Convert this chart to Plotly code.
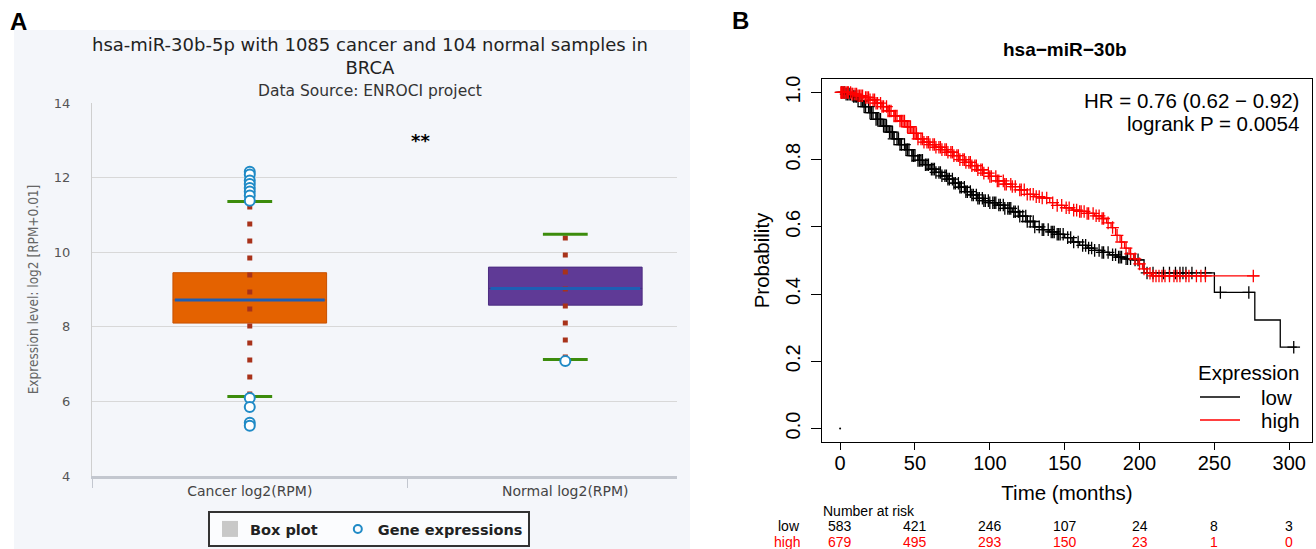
import plotly.graph_objects as go

W, H = 1316, 549

def px(x):
    return x / W

def py(y):
    return 1 - y / H

# ---------------- Panel A data ----------------
groups = ["Cancer log2(RPM)", "Normal log2(RPM)"]
q1 = [8.10, 8.58]
median = [8.72, 9.03]
q3 = [9.45, 9.60]
lower_whisker = [6.13, 7.12]
upper_whisker = [11.36, 10.48]
box_fill = ["#e46200", "#5f3a96"]
box_edge = ["#c75000", "#4b2c80"]
outliers_cancer = [12.16, 12.08, 11.92, 11.83, 11.72, 11.63, 11.52, 11.38,
                   6.09, 5.85, 5.43, 5.35]
outliers_normal = [7.08]
outliers = [outliers_cancer, outliers_normal]
signif_label = "**"
signif_y = 13.0
title_a = ["hsa-miR-30b-5p with 1085 cancer and 104 normal samples in", "BRCA"]

# ---------------- Panel B data ----------------
low_t = [0, 4, 8, 12, 16, 20, 24, 28, 32, 36, 40, 44, 48, 52, 56, 60, 64, 68, 72, 76,
         80, 84, 88, 92, 96, 100, 105, 110, 115, 120, 125, 130, 135, 140, 145, 150,
         155, 160, 165, 170, 175, 180, 185, 190, 196, 203, 250, 277, 294, 305]
low_s = [1.0, 0.995, 0.988, 0.975, 0.958, 0.94, 0.92, 0.90, 0.882, 0.862, 0.845, 0.83,
         0.812, 0.798, 0.785, 0.772, 0.762, 0.752, 0.742, 0.73, 0.718, 0.705, 0.695,
         0.685, 0.678, 0.672, 0.665, 0.655, 0.645, 0.632, 0.616, 0.60, 0.592, 0.585,
         0.578, 0.568, 0.555, 0.545, 0.537, 0.53, 0.524, 0.517, 0.51, 0.505, 0.502,
         0.463, 0.405, 0.323, 0.242, 0.242]
high_t = [0, 8, 12, 16, 20, 24, 28, 32, 36, 40, 44, 48, 52, 56, 60, 64, 68, 72, 76, 80,
          84, 88, 92, 96, 100, 105, 110, 115, 120, 125, 130, 135, 140, 145, 150, 155,
          160, 165, 170, 175, 178, 181, 184, 187, 190, 193, 196, 199, 202, 205, 208, 280]
high_s = [1.0, 0.995, 0.99, 0.985, 0.978, 0.968, 0.958, 0.945, 0.93, 0.915, 0.898,
          0.878, 0.862, 0.852, 0.845, 0.837, 0.83, 0.822, 0.812, 0.80, 0.792, 0.782,
          0.77, 0.76, 0.75, 0.737, 0.727, 0.72, 0.71, 0.697, 0.69, 0.686, 0.672, 0.664,
          0.657, 0.65, 0.646, 0.64, 0.633, 0.625, 0.612, 0.598, 0.575, 0.555, 0.537,
          0.52, 0.505, 0.49, 0.475, 0.462, 0.454, 0.454]
low_censor = [1, 2, 3, 4, 5, 6, 7, 9, 10, 11, 12, 14, 15, 16, 17, 19, 20, 21, 22, 24, 25,
              26, 27, 29, 30, 31, 33, 34, 35, 36, 38, 39, 40, 41, 43, 44, 45, 46, 48, 49,
              50, 52, 53, 54, 55, 57, 58, 59, 61, 62, 63, 64, 66, 67, 68, 70, 71, 72, 73,
              75, 76, 77, 79, 80, 81, 83, 84, 85, 87, 88, 89, 91, 92, 93, 95, 96, 97, 99,
              100, 102, 103, 104, 106, 107, 109, 110, 112, 113, 114, 116, 117, 119, 120,
              122, 124, 125, 127, 129, 130, 133, 135, 136, 139, 141, 142, 143, 145, 146,
              147, 149, 152, 154, 156, 159, 162, 164, 166, 168, 170, 173, 175, 176, 179,
              182, 184, 186, 187, 188, 191, 192, 194, 197, 199, 205, 209, 216, 220, 224,
              227, 229, 231, 235, 244, 254, 273, 303]
high_censor = [0.5, 1, 1.5, 2.5, 3, 4, 5, 5.5, 7, 8, 8.5, 10, 11, 12, 13, 14, 15, 17, 18,
               19, 20, 22, 23, 24, 25, 27, 28, 29, 31, 32, 33, 34, 36, 37, 38, 40, 41, 42,
               43, 45, 46, 47, 49, 50, 51, 52, 54, 55, 56, 58, 59, 60, 62, 63, 64, 66, 67,
               68, 70, 71, 72, 74, 75, 76, 78, 79, 80, 82, 83, 84, 86, 87, 88, 90, 91, 92,
               94, 95, 96, 99, 100, 101, 104, 105, 106, 109, 110, 111, 114, 115, 117, 120,
               121, 123, 125, 127, 129, 131, 133, 135, 138, 142, 145, 148, 151, 153, 156,
               158, 160, 161, 163, 165, 166, 169, 171, 173, 175, 176, 179, 182, 185, 188,
               191, 194, 197, 200, 203, 207, 209, 211, 213, 215, 217, 220, 223, 225, 227,
               231, 233, 238, 241, 244, 276]
risk_times = [0, 50, 100, 150, 200, 250, 300]
risk_low = [583, 421, 246, 107, 24, 8, 3]
risk_high = [679, 495, 293, 150, 23, 1, 0]
km_title = "hsa\u2212miR\u221230b"
hr_text = ["HR = 0.76 (0.62 \u2212 0.92)", "logrank P = 0.0054"]
groups_b = ["low", "high"]
colors_b = ["#000000", "#ff0000"]


def step_at(ts, ss, t):
    val = ss[0]
    for ti, si in zip(ts, ss):
        if ti <= t:
            val = si
    return val


fig = go.Figure()

# ---------------- Panel A traces ----------------
BOX_W = 0.487
CAP_W = 0.142
FA = "DejaVu Sans"
FB = "Liberation Sans"
for i in range(len(groups)):
    fig.add_trace(go.Scatter(
        x=[i, i], y=[lower_whisker[i], upper_whisker[i]], mode="lines",
        line=dict(color="#a8321a", width=5, dash="5px,12px"),
        showlegend=False, hoverinfo="skip", xaxis="x", yaxis="y"))
    fig.add_trace(go.Box(
        x=[i], q1=[q1[i]], median=[median[i]], q3=[q3[i]],
        lowerfence=[q1[i]], upperfence=[q3[i]], width=BOX_W, whiskerwidth=0,
        fillcolor=box_fill[i], line=dict(color=box_edge[i], width=1),
        boxpoints=False, showlegend=False, hoverinfo="skip", xaxis="x", yaxis="y"))
    fig.add_trace(go.Scatter(
        x=[i - BOX_W / 2 + 0.006, i + BOX_W / 2 - 0.006], y=[median[i], median[i]],
        mode="lines", line=dict(color="#1e5eb4", width=3),
        showlegend=False, hoverinfo="skip", xaxis="x", yaxis="y"))
    for fence in (lower_whisker[i], upper_whisker[i]):
        fig.add_trace(go.Scatter(
            x=[i - CAP_W / 2, i + CAP_W / 2], y=[fence, fence], mode="lines",
            line=dict(color="#3c8c0c", width=3),
            showlegend=False, hoverinfo="skip", xaxis="x", yaxis="y"))
    fig.add_trace(go.Scatter(
        x=[i] * len(outliers[i]), y=outliers[i], mode="markers",
        marker=dict(symbol="circle", size=10, color="white",
                    line=dict(color="#1f8ac6", width=2)),
        showlegend=False, hoverinfo="skip", xaxis="x", yaxis="y"))

# legend entries for panel A
fig.add_trace(go.Scatter(x=[None], y=[None], mode="markers",
                         name="Box plot\u00a0\u00a0\u00a0",
                         marker=dict(symbol="square", size=16, color="#c8c8c8"),
                         legend="legend", xaxis="x", yaxis="y"))
fig.add_trace(go.Scatter(x=[None], y=[None], mode="markers", name="Gene expressions",
                         marker=dict(symbol="circle-open", size=8, color="#1f8ac6",
                                     line=dict(width=2)),
                         legend="legend", xaxis="x", yaxis="y"))

# ---------------- Panel B traces ----------------
for name, ts, ss, cens, col in [(groups_b[0], low_t, low_s, low_censor, colors_b[0]),
                                (groups_b[1], high_t, high_s, high_censor, colors_b[1])]:
    fig.add_trace(go.Scatter(
        x=ts, y=ss, mode="lines", line=dict(color=col, width=1.3, shape="hv"),
        name=name, showlegend=False, xaxis="x2", yaxis="y2", hoverinfo="skip"))
    fig.add_trace(go.Scatter(
        x=cens, y=[step_at(ts, ss, c) for c in cens], mode="markers",
        marker=dict(symbol="cross-thin", size=9, line=dict(color=col, width=1.3)),
        showlegend=False, xaxis="x2", yaxis="y2", hoverinfo="skip"))

fig.add_trace(go.Scatter(x=[risk_times[0]], y=[0], mode="markers",
                         marker=dict(size=2, color="black"), showlegend=False,
                         xaxis="x2", yaxis="y2", hoverinfo="skip"))

# ---------------- annotations ----------------
ann = []
shapes = [dict(type="rect", xref="paper", yref="paper", x0=px(14), x1=px(690),
               y0=0, y1=py(30), fillcolor="#f4f6fa", line=dict(width=0), layer="below")]
ann.append(dict(text="<b>A</b>", x=px(8), y=py(22), xref="paper", yref="paper",
                xanchor="left", yanchor="middle", showarrow=False,
                font=dict(family=FB, size=24, color="black")))
ann.append(dict(text="<b>B</b>", x=px(730), y=py(20), xref="paper", yref="paper",
                xanchor="left", yanchor="middle", showarrow=False,
                font=dict(family=FB, size=24, color="black")))
ann.append(dict(text="<br>".join(title_a), x=px(370), y=py(56), xref="paper", yref="paper",
                xanchor="center", yanchor="middle", showarrow=False,
                font=dict(family=FA, size=18, color="#222")))
ann.append(dict(text="Data Source: ENROCI project", x=px(370), y=py(91),
                xref="paper", yref="paper", xanchor="center", yanchor="middle",
                showarrow=False, font=dict(family=FA, size=15.5, color="#333")))
ann.append(dict(text="<b>" + signif_label + "</b>", x=0.54, y=signif_y, xref="x", yref="y",
                xanchor="center", showarrow=False,
                font=dict(family=FA, size=18, color="black")))
ann.append(dict(text="<b>" + km_title + "</b>", x=px(1065), y=py(49), xref="paper",
                yref="paper", xanchor="center", yanchor="middle", showarrow=False,
                font=dict(family=FB, size=19, color="black")))
for k, t in enumerate(hr_text):
    ann.append(dict(text=t, x=px(1301), y=py(100 + 23 * k), xref="paper", yref="paper",
                    xanchor="right", yanchor="middle", showarrow=False,
                    font=dict(family=FB, size=20.5, color="black")))
# KM legend
ann.append(dict(text="Expression", x=px(1301), y=py(372), xref="paper", yref="paper",
                xanchor="right", yanchor="middle", showarrow=False,
                font=dict(family=FB, size=20.5, color="black")))
for k, (name, col) in enumerate(zip(groups_b, colors_b)):
    yy = 397 + 23 * k
    shapes.append(dict(type="line", xref="paper", yref="paper", x0=px(1200), x1=px(1240),
                       y0=py(yy), y1=py(yy), line=dict(color=col, width=1.3)))
    ann.append(dict(text=name, x=px(1259), y=py(yy), xref="paper", yref="paper",
                    xanchor="left", yanchor="middle", showarrow=False,
                    font=dict(family=FB, size=20.5, color="black")))
# number at risk
ann.append(dict(text="Number at risk", x=px(821), y=py(511), xref="paper", yref="paper",
                xanchor="left", yanchor="middle", showarrow=False,
                font=dict(family=FB, size=14, color="black")))
for label, vals, col, yy in [(groups_b[0], risk_low, colors_b[0], 526),
                             (groups_b[1], risk_high, colors_b[1], 542)]:
    ann.append(dict(text=label, x=px(802), y=py(yy), xref="paper", yref="paper",
                    xanchor="right", yanchor="middle", showarrow=False,
                    font=dict(family=FB, size=14, color=col)))
    for t, v in zip(risk_times, vals):
        ann.append(dict(text=str(v), x=t, y=py(yy), xref="x2", yref="paper",
                        xanchor="center", yanchor="middle", showarrow=False,
                        font=dict(family=FB, size=14, color=col)))

fig.update_layout(
    width=W, height=H, margin=dict(l=0, r=0, t=0, b=0, autoexpand=False),
    paper_bgcolor="white", plot_bgcolor="white",
    annotations=ann, shapes=shapes,
    xaxis=dict(domain=[px(92), px(677)], range=[-0.5, 1.354], tickvals=[0, 1],
               ticktext=groups, ticks="", showgrid=False, zeroline=False,
               showline=True, linecolor="#c3c7cf", linewidth=3,
               tickfont=dict(family=FA, size=14, color="#444"),
               minor=dict(tickvals=[-0.5, 0.5], ticks="outside", ticklen=9,
                          tickcolor="#c3c7cf", tickwidth=1, showgrid=False)),
    yaxis=dict(domain=[py(476), py(103)], range=[4, 14], dtick=2, tick0=4,
               showgrid=True, gridcolor="#d8d8d8", gridwidth=1, zeroline=False,
               showline=True, linecolor="#cfcfcf", linewidth=1,
               ticks="outside", ticklen=18, tickcolor="rgba(0,0,0,0)",
               tickfont=dict(family=FA, size=13, color="#555"),
               title=dict(text="Expression level: log2 [RPM+0.01]", standoff=12,
                          font=dict(family="DejaVu Sans Condensed, DejaVu Sans",
                                    size=13.5, color="#666"))),
    xaxis2=dict(domain=[px(822), px(1312)], range=[-12.1, 315.2], tick0=0, dtick=50,
                ticks="outside", ticklen=7, tickcolor="black", showgrid=False,
                zeroline=False, showline=True, mirror=True, linecolor="black",
                linewidth=1.3, anchor="y2", ticklabelstandoff=-4,
                tickfont=dict(family=FB, size=20, color="black"),
                title=dict(text="Time (months)", standoff=12,
                           font=dict(family=FB, size=20.5, color="black"))),
    yaxis2=dict(domain=[py(442), py(79)], range=[-0.04, 1.04], tick0=0, dtick=0.2,
                tickformat=".1f", tickangle=-90, ticks="outside", ticklen=10,
                ticklabelstandoff=3,
                tickcolor="black", showgrid=False, zeroline=False, showline=True,
                mirror=True, linecolor="black", linewidth=1.3, anchor="x2",
                tickfont=dict(family=FB, size=20, color="black"),
                title=dict(text="Probability", standoff=6,
                           font=dict(family=FB, size=20.5, color="black"))),
    legend=dict(orientation="h", xref="container", yref="container",
                x=px(369), y=py(529), xanchor="center", yanchor="middle",
                bgcolor="#fbfcfe", bordercolor="#333", borderwidth=2,
                font=dict(family=FA, size=14.5, color="#222", weight="bold"),
                itemclick=False, traceorder="normal"),
    showlegend=True,
)

fig.write_html("out.html", config={"displayModeBar": False},
               post_script="document.body.style.margin='0px';document.body.style.overflow='hidden';")
